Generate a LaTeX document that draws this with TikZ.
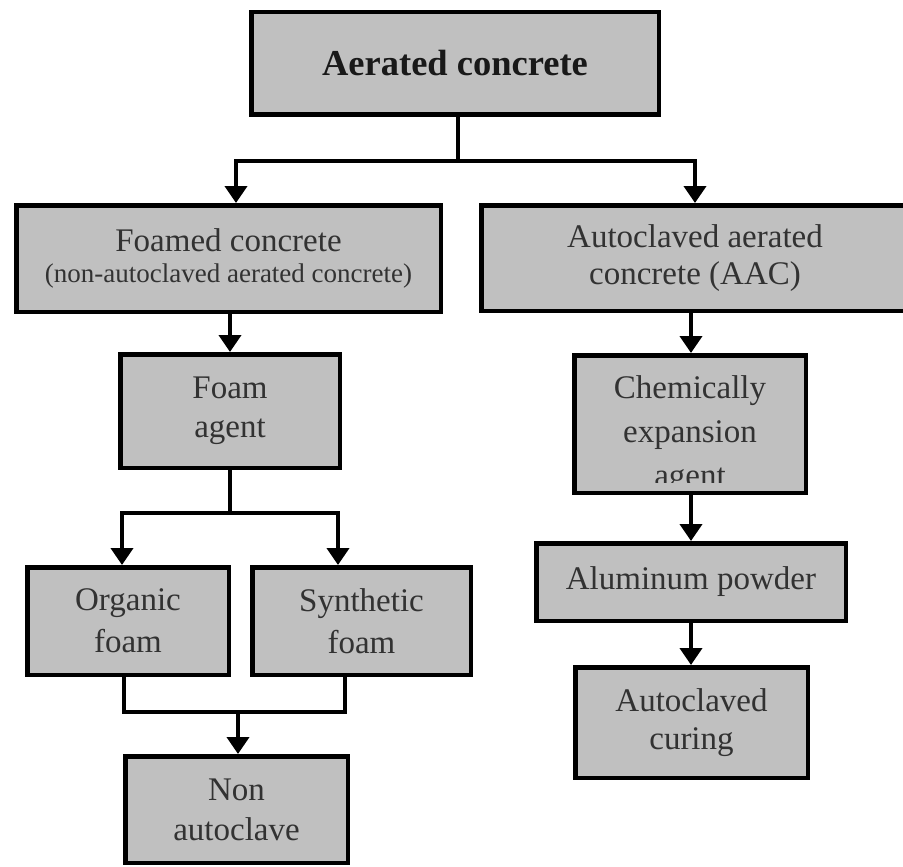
\documentclass[tikz,border=0pt]{standalone}
\usepackage{fontspec}
\setmainfont{Liberation Serif}
\usetikzlibrary{arrows.meta}
\definecolor{boxfill}{RGB}{192,192,192}
\definecolor{txtgray}{RGB}{50,50,50}
\begin{document}
\begin{tikzpicture}[x=1pt,y=-1pt,
  box/.style={draw=black, line width=4.5pt, fill=boxfill, text=txtgray, inner sep=0pt,
              align=center, font=\fontsize{33}{40}\selectfont},
  conn/.style={line width=4pt},
  arr/.style={line width=4pt, -{Triangle[width=22pt,length=17pt]}},
  txt/.style={text=txtgray, inner sep=0pt, align=center}]
\useasboundingbox (0,0) rectangle (903,867);
\clip (0,0) rectangle (903,867);
\fill[white] (0,0) rectangle (903,867);

% boxes
\node[box, minimum width=407.5pt, minimum height=102.5pt, text=black!90,
      font=\bfseries\fontsize{36.5}{40}\selectfont] (top) at (455,63.5) {Aerated concrete};
\node[box, minimum width=424.5pt, minimum height=106.5pt] (foamed) at (228.5,258.5)
  {Foamed concrete\\[-9pt]{\fontsize{27}{31}\selectfont (non-autoclaved aerated concrete)}};
\node[box, minimum width=427.5pt, minimum height=105.5pt, font=\fontsize{33}{37}\selectfont] (aac) at (695,258)
  {Autoclaved aerated\\concrete (AAC)};
\node[box, minimum width=219.5pt, minimum height=113.5pt, font=\fontsize{33}{39}\selectfont] (agent) at (230,411)
  {Foam\\agent};
\node[box, minimum width=231.5pt, minimum height=137.5pt] (chem) at (690,424) {};
\begin{scope}
  \clip (572,353) rectangle (808,482);
  \node[txt, font=\fontsize{33}{44}\selectfont, anchor=base] (chemtxt) at (690,486)
    {Chemically\\expansion\\agent};
\end{scope}
\node[box, minimum width=201.5pt, minimum height=107.5pt, font=\fontsize{33}{42}\selectfont] (organic) at (128,621)
  {Organic\\foam};
\node[box, minimum width=218.5pt, minimum height=107.5pt, font=\fontsize{33}{42}\selectfont] (synthetic) at (361.5,621)
  {Synthetic\\foam};
\node[box, minimum width=309.5pt, minimum height=77.5pt] (alu) at (691,582) {Aluminum powder};
\node[box, minimum width=232.5pt, minimum height=110.5pt, font=\fontsize{33}{38}\selectfont] (curing) at (691.5,722.5)
  {Autoclaved\\curing};
\node[box, minimum width=222.5pt, minimum height=106.5pt, font=\fontsize{33}{40}\selectfont] (non) at (236.5,809.5)
  {Non\\autoclave};

% junction coordinates
\coordinate (j1) at (458,161);
\coordinate (xL) at (236,0);
\coordinate (xR) at (695,0);
\coordinate (j2) at (230,513);
\coordinate (xOL) at (122,0);
\coordinate (xSR) at (338,0);
\coordinate (xOB) at (124,0);
\coordinate (xSB) at (345,0);
\coordinate (j3) at (238,712);
\coordinate (xC) at (691,0);

% connectors
\draw[conn] (top.south -| j1) -- (j1);
\draw[arr] (j1) -| (foamed.north -| xL);
\draw[arr] (j1) -| (aac.north -| xR);
\draw[arr] (foamed.south -| agent) -- (agent.north);
\draw[conn] (agent.south) -- (j2);
\draw[arr] (j2) -| (organic.north -| xOL);
\draw[arr] (j2) -| (synthetic.north -| xSR);
\draw[conn] (organic.south -| xOB) |- (j3) -| (synthetic.south -| xSB);
\draw[arr] (j3) -- (non.north -| j3);
\draw[arr] (aac.south -| xC) -- (chem.north -| xC);
\draw[arr] (chem.south -| xC) -- (alu.north -| xC);
\draw[arr] (alu.south -| xC) -- (curing.north -| xC);
\end{tikzpicture}
\end{document}
